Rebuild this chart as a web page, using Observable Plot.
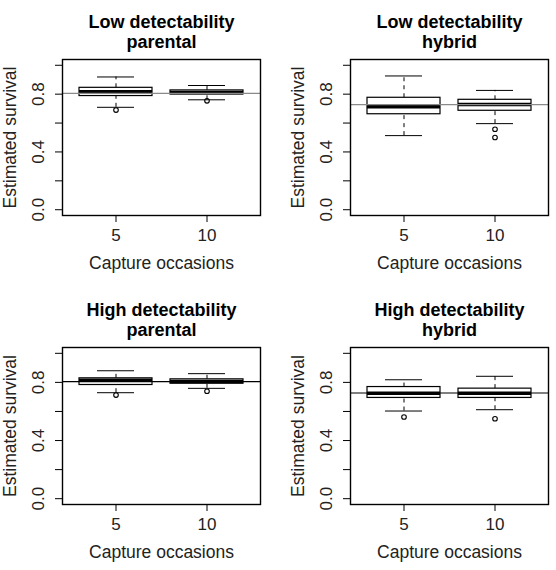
<!DOCTYPE html>
<html>
<head>
<meta charset="utf-8">
<script src="https://cdn.jsdelivr.net/npm/d3@7"></script>
<script src="https://cdn.jsdelivr.net/npm/@observablehq/plot@0.6"></script>
<style>
  html, body { margin: 0; padding: 0; background: #fff; }
  #chart { position: relative; width: 556px; height: 570px; overflow: hidden; }
  #chart svg { position: absolute; overflow: visible; }
</style>
</head>
<body>
<div id="chart"></div>
<script>
// Number of capture occasions (x categories)
const occasions = ["5", "10"];

// One panel per scenario
const panelTitles = [
  "Low detectability\nparental",
  "Low detectability\nhybrid",
  "High detectability\nparental",
  "High detectability\nhybrid"
];
const yAxisTitle = "Estimated survival";
const xAxisTitle = "Capture occasions";

const yTicks = [0, 0.2, 0.4, 0.6, 0.8, 1.0];
const yTickLabels = ["0.0", "", "0.4", "", "0.8", ""];

// True survival used in the simulation (reference line per panel)
const trueSurvival = [0.805, 0.727, 0.805, 0.727];

// Box-plot summaries per panel, one value per occasion count
const lowerWhisker  = [[0.709, 0.761], [0.513, 0.596], [0.729, 0.759], [0.603, 0.612]];
const firstQuartile = [[0.787, 0.798], [0.661, 0.685], [0.782, 0.791], [0.693, 0.693]];
const medians       = [[0.816, 0.812], [0.713, 0.729], [0.814, 0.806], [0.725, 0.725]];
const thirdQuartile = [[0.844, 0.826], [0.775, 0.761], [0.828, 0.821], [0.768, 0.757]];
const upperWhisker  = [[0.919, 0.860], [0.926, 0.826], [0.880, 0.860], [0.818, 0.842]];
const outliers = [
  [[0.690], [0.754]],
  [[], [0.557, 0.500]],
  [[0.713], [0.739]],
  [[0.562], [0.550]]
];

// Panel placement and styling
const refLineColor = ["#8a8a8a", "#8a8a8a", "#000", "#000"];
const layout = [
  {left: 0,   top: 0,   ml: 62, mr: 18, mt: 59, mb: 70},
  {left: 278, top: 0,   ml: 72, mr: 8,  mt: 59, mb: 70},
  {left: 0,   top: 285, ml: 62, mr: 18, mt: 62, mb: 66},
  {left: 278, top: 285, ml: 72, mr: 8,  mt: 62, mb: 66}
];
const fontFamily = "'Liberation Sans', Arial, Helvetica, sans-serif";

const chart = document.getElementById("chart");

panelTitles.forEach((title, p) => {
  const stats = occasions.map((occ, j) => ({
    occ,
    lo: lowerWhisker[p][j],
    q1: firstQuartile[p][j],
    med: medians[p][j],
    q3: thirdQuartile[p][j],
    hi: upperWhisker[p][j]
  }));
  const outs = occasions.flatMap((occ, j) => outliers[p][j].map((v) => ({occ, v})));
  const L = layout[p];

  const svg = Plot.plot({
    width: 278,
    height: 285,
    marginLeft: L.ml,
    marginRight: L.mr,
    marginTop: L.mt,
    marginBottom: L.mb,
    style: {fontFamily, fontSize: "17px", background: "transparent", color: "#000"},
    x: {domain: occasions, paddingInner: 0.2, paddingOuter: 0.18, axis: null},
    y: {domain: [-0.04, 1.04], axis: null},
    marks: [
      // dashed whiskers
      Plot.ruleX(stats, {x: "occ", y1: "q3", y2: "hi", strokeDasharray: "4,4"}),
      Plot.ruleX(stats, {x: "occ", y1: "lo", y2: "q1", strokeDasharray: "4,4"}),
      // whisker staples
      Plot.tickY(stats, {x: "occ", y: "hi", insetLeft: 18, insetRight: 18}),
      Plot.tickY(stats, {x: "occ", y: "lo", insetLeft: 18, insetRight: 18}),
      // interquartile box
      Plot.barY(stats, {x: "occ", y1: "q1", y2: "q3", fill: "white", stroke: "black", strokeWidth: 1.2}),
      // median
      Plot.tickY(stats, {x: "occ", y: "med", strokeWidth: 3.5}),
      // outliers
      Plot.dot(outs, {x: "occ", y: "v", r: 2.3, stroke: "black", strokeWidth: 1.1}),
      // true survival
      Plot.ruleY([trueSurvival[p]], {stroke: refLineColor[p], strokeWidth: 1.2}),
      Plot.frame({stroke: "black", strokeWidth: 1.4}),
      Plot.axisY({
        ticks: yTicks,
        tickFormat: (d) => yTickLabels[yTicks.indexOf(d)],
        tickRotate: -90,
        tickSize: 7,
        tickPadding: 12,
        fill: "#222",
        label: null
      }),
      Plot.axisX({tickSize: 7, tickPadding: 6, fill: "#222", label: null}),
      Plot.text([title], {
        text: (d) => d,
        frameAnchor: "top",
        lineAnchor: "bottom",
        lineHeight: 20 / 18,
        dy: -12,
        fontSize: 18,
        fontWeight: "bold"
      }),
      Plot.text([yAxisTitle], {
        text: (d) => d,
        frameAnchor: "left",
        rotate: -90,
        textAnchor: "middle",
        lineAnchor: "bottom",
        dx: -47,
        fontSize: 17.5,
        fill: "#222"
      }),
      Plot.text([xAxisTitle], {
        text: (d) => d,
        frameAnchor: "bottom",
        lineAnchor: "bottom",
        dy: 53,
        fontSize: 17.5,
        fill: "#222"
      })
    ]
  });
  svg.style.left = L.left + "px";
  svg.style.top = L.top + "px";
  chart.appendChild(svg);
});
</script>
</body>
</html>
